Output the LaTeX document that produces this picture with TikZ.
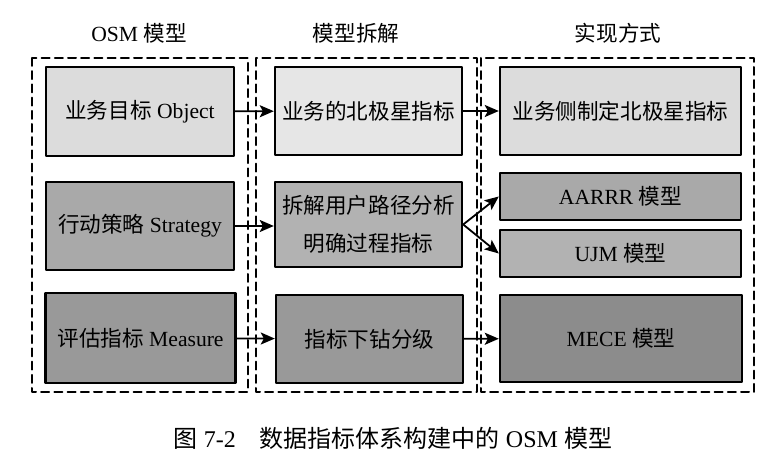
\documentclass[tikz,border=0pt]{standalone}
\usepackage{fontspec}
\setmainfont{Liberation Serif}
\newfontfamily\cjk{Noto Sans CJK SC}
\usepackage{tikz}
\usetikzlibrary{arrows}
\usetikzlibrary{arrows.meta}
\usetikzlibrary{positioning}

\definecolor{rowone}{HTML}{DCDCDC}
\definecolor{rowonem}{HTML}{E6E6E6}
\definecolor{rowtwo}{HTML}{A9A9A9}
\definecolor{rowtwom}{HTML}{B2B2B2}
\definecolor{rowthree}{HTML}{999999}
\definecolor{rowthreer}{HTML}{8C8C8C}

\tikzset{
  stepbox/.style={draw=black,line width=1.2pt,inner sep=0pt,align=center,
    font=\fontsize{10.8}{19}\selectfont},
  groupbox/.style={draw=black,line width=1pt,dash pattern=on 4pt off 2.6pt},
  title/.style={font=\fontsize{10.8}{12}\selectfont},
  link/.style={-{Stealth[length=7pt,width=6pt,inset=1.5pt]},line width=0.9pt}
}

\begin{document}
\begin{tikzpicture}[line cap=round,line join=round,>=triangle 45,x=0.5pt,y=-0.5pt]
\useasboundingbox (0,0) rectangle (778,459);
% column frames
\draw[groupbox] (32,58) rectangle (248,392);
\draw[groupbox] (256,58) rectangle (477,392);
\draw[groupbox] (481,58) rectangle (754,392);
% column titles
\node[title] (tosm) at (139,33) {OSM {\cjk 模型}};
\node[title] (tsplit) at (356,33) {\cjk 模型拆解};
\node[title] (tway) at (618,33) {\cjk 实现方式};
% OSM column
\node[stepbox,fill=rowone,minimum width=94pt,minimum height=44.5pt] (obj) at (140,111.5) {{\cjk 业务目标} Object};
\node[stepbox,fill=rowtwo,minimum width=94pt,minimum height=44pt] (str) at (140,226) {{\cjk 行动策略} Strategy};
\node[stepbox,fill=rowthree,minimum width=95pt,minimum height=45pt] (mea) at (140.5,338) {{\cjk 评估指标} Measure};
% split column
\node[stepbox,fill=rowonem,minimum width=93.5pt,minimum height=44pt] (star) at (368.5,111) {\cjk 业务的北极星指标};
\node[stepbox,fill=rowtwom,minimum width=93.5pt,minimum height=42.5pt] (path) at (368.5,224.5) {\cjk 拆解用户路径分析\\\cjk 明确过程指标};
\node[stepbox,fill=rowthree,minimum width=93.5pt,minimum height=44pt] (drill) at (369.5,339) {\cjk 指标下钻分级};
% way column
\node[stepbox,fill=rowone,minimum width=120.5pt,minimum height=44pt] (nsm) at (620.5,111) {\cjk 业务侧制定北极星指标};
\node[stepbox,fill=rowtwo,minimum width=120.5pt,minimum height=23.5pt] (aarrr) at (620.5,196.5) {AARRR {\cjk 模型}};
\node[stepbox,fill=rowtwom,minimum width=120.5pt,minimum height=23.5pt] (ujm) at (620.5,253.5) {UJM {\cjk 模型}};
\node[stepbox,fill=rowthreer,minimum width=121pt,minimum height=43.5pt] (mece) at (621,338.5) {MECE {\cjk 模型}};
% arrows
\draw[link] (obj) -- (star);
\draw[link] (star) -- (nsm);
\draw[link] (str.east) -- (path.west |- str.east);
\draw[link] (path.east) -- (aarrr.west);
\draw[link] (path.east) -- (ujm.west);
\draw[link] (mea) -- (drill);
\draw[link] (drill) -- (mece);
% caption
\node[font=\fontsize{12}{14}\selectfont] (cap) at (393,438) {{\cjk 图} 7-2\hspace{1em}{\cjk 数据指标体系构建中的} OSM {\cjk 模型}};
\end{tikzpicture}
\end{document}
